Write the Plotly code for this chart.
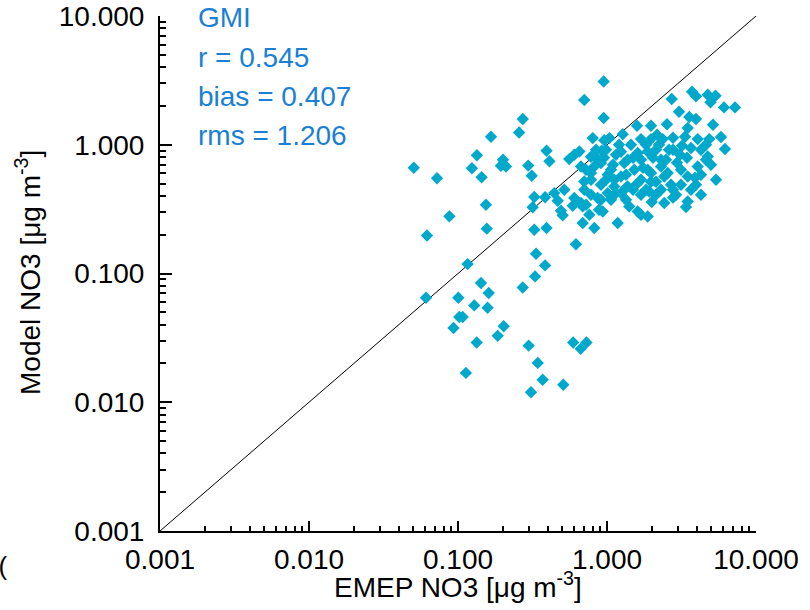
import plotly.graph_objects as go

# EMEP observed NO3 vs GMI modelled NO3, both in ug m-3
emep_no3 = [
    0.0505, 0.0723, 0.134, 0.124, 0.144, 0.1665, 0.257, 0.272, 0.194, 0.2005,
    0.21, 0.296, 0.3125, 0.393, 0.411, 0.558, 0.603, 0.652, 0.704, 0.950,
    0.950, 0.802, 0.959, 1.039, 1.275, 0.921,
    0.154, 0.0875, 0.0619, 0.156, 0.325, 0.384, 0.317, 0.443, 0.517, 0.467,
    0.491, 0.504, 0.603, 0.589, 0.687, 0.704, 0.325, 0.393, 0.619,
    0.116, 0.061, 0.334, 0.384, 0.329, 0.272, 0.1427, 0.1607, 0.1005, 0.1286,
    0.158, 0.102, 0.1075, 0.0933, 0.2027, 0.1847, 0.1335, 0.298, 0.593, 0.728,
    0.666, 0.343, 0.113, 0.370, 0.509, 0.309,
    0.781, 0.866, 0.761, 0.687, 0.822, 0.936, 1.18, 1.411, 1.607, 1.691,
    1.876, 1.995, 2.424, 3.479, 3.389, 1.827, 1.922, 4.274, 4.617, 0.781,
    0.704, 0.669, 2.718, 3.72, 3.956, 4.741, 5.35, 4.95, 6.10, 7.23,
    3.567, 3.956, 1.59, 1.974, 2.527, 1.691, 1.974, 2.365, 2.773, 3.479,
    3.338, 3.187, 3.09, 2.95, 4.061, 4.86, 5.82, 6.19, 0.669, 1.607,
    1.876, 2.304, 3.663, 4.741, 4.061, 2.304, 2.555, 3.138, 3.479, 1.876,
    1.974, 1.377, 1.306, 1.525, 1.064, 1.011, 1.119, 1.241, 0.911, 0.781,
    1.691, 2.424, 1.241, 1.064, 1.119, 1.011, 1.377,
    1.149, 1.449, 2.132, 2.689, 2.905, 3.956, 4.989, 5.39, 0.911, 1.341,
    2.132, 3.663, 0.870, 1.691, 1.204, 0.781, 0.818,
    0.985, 1.495, 2.132, 2.607, 4.274, 2.773, 0.723, 0.884,
    0.844, 0.955, 1.097, 1.241, 1.495, 1.744, 2.036, 2.234, 2.773, 3.443,
    3.896, 2.773, 2.304, 1.691, 1.341, 0.911, 0.985, 1.341, 1.974, 3.138,
    4.617, 5.145, 3.042, 2.166, 1.827, 0.723, 1.149, 1.565, 2.489, 4.274,
]
gmi_no3 = [
    0.663, 0.549, 0.829, 0.657, 0.559, 1.154, 1.246, 1.584, 0.687, 0.765,
    0.678, 0.689, 0.574, 0.898, 0.744, 0.774, 0.836, 0.887, 2.225, 3.10,
    1.612, 1.127, 1.084, 1.127, 1.207, 0.898,
    0.342, 0.278, 0.1975, 0.223, 0.3925, 0.391, 0.327, 0.4215, 0.447, 0.367,
    0.307, 0.2835, 0.3855, 0.336, 0.332, 0.447, 0.2187, 0.2255, 0.1687,
    0.1184, 0.0648, 0.1423, 0.1155, 0.0949, 0.0778, 0.0843, 0.0705, 0.0648, 0.0565,
    0.0542, 0.0459, 0.0459, 0.0377, 0.0389, 0.0328, 0.0291, 0.0275, 0.0291, 0.0291,
    0.026, 0.0202, 0.0169, 0.01496, 0.01368, 0.01196,
    0.409, 0.3855, 0.286, 0.2465, 0.2255, 0.303, 0.2465, 0.332, 0.303, 0.286,
    0.2774, 0.359, 0.3525, 0.3628, 0.328, 0.447, 0.4338, 0.5848, 0.765, 0.6029,
    0.5188, 0.3525, 2.265, 2.58, 2.38, 2.445, 2.402, 2.138, 1.949, 1.949,
    1.641, 1.584, 1.405, 1.405, 1.443, 1.107, 1.107, 1.107, 1.133, 1.348,
    1.154, 0.982, 0.836, 0.725, 1.107, 1.107, 1.148, 0.926, 0.678, 0.862,
    0.887, 0.765, 0.943, 0.811, 0.678, 0.678, 0.603, 0.639, 0.567, 0.639,
    0.603, 0.765, 0.721, 0.639, 0.639, 0.585, 0.535, 0.567, 0.721, 0.535,
    0.535, 0.567, 0.4215, 0.374, 0.4745, 0.4215, 0.4745,
    0.836, 1.0, 0.915, 0.489, 0.409, 0.489, 0.699, 0.535, 0.489, 0.585,
    0.516, 0.447, 0.765, 0.765, 1.0, 0.807, 0.675,
    0.915, 0.447, 0.409, 0.915, 0.915, 0.447, 0.342, 0.313,
    0.915, 0.793, 0.699, 0.882, 0.793, 0.663, 0.793, 1.0, 0.915, 0.793,
    0.554, 0.388, 0.447, 0.409, 0.374, 0.374, 0.535, 0.4635, 0.516, 0.489,
    1.0, 1.43, 1.804, 1.196, 1.0, 0.639, 0.4215, 0.489, 0.765, 0.409,
]

# 1:1 reference line end points
one_to_one = [0.001, 10.0]

# axis ticks
major_vals = [0.001, 0.01, 0.1, 1.0, 10.0]
major_text = ["0.001", "0.010", "0.100", "1.000", "10.000"]
minor_vals = [m * d for d in [0.001, 0.01, 0.1, 1.0] for m in range(2, 10)]

stats_lines = ["GMI", "r = 0.545", "bias = 0.407", "rms = 1.206"]

FONT = "Liberation Sans, Arial, Helvetica, sans-serif"
POINT_COLOR = "#00a9cb"
STATS_COLOR = "#1b7fd3"

fig = go.Figure()
fig.add_trace(go.Scatter(
    x=one_to_one, y=one_to_one, mode="lines",
    line=dict(color="black", width=1), hoverinfo="skip", showlegend=False,
))
fig.add_trace(go.Scatter(
    x=emep_no3, y=gmi_no3, mode="markers",
    marker=dict(symbol="diamond", size=9.5, color=POINT_COLOR, line=dict(width=0)),
    showlegend=False,
))

axis_common = dict(
    type="log", range=[-3, 1], showgrid=False, zeroline=False,
    showline=True, linecolor="black", linewidth=2, automargin=False,
    ticks="inside", tickcolor="black", tickwidth=1.5,
    tickvals=major_vals, ticktext=major_text,
    tickfont=dict(family=FONT, size=28, color="black"),
    minor=dict(tickvals=minor_vals, ticks="inside", tickcolor="black",
               tickwidth=1.5, showgrid=False),
    mirror=False,
)
fig.update_xaxes(**axis_common, ticklen=10, ticklabelstandoff=2)
fig.update_yaxes(**axis_common, ticklen=12, ticklabelstandoff=8)
fig.update_xaxes(minor_ticklen=5)
fig.update_yaxes(minor_ticklen=6)

plot_w, plot_h = 596, 515
left, top = 160, 16

def px_to_paper(px, py):
    return (px - left) / plot_w, (top + plot_h - py) / plot_h

annotations = []
for line, py in zip(stats_lines, [18, 57, 96, 135]):
    ax, ay = px_to_paper(196, py)
    annotations.append(dict(
        text=line, xref="paper", yref="paper", x=ax, y=ay,
        xanchor="left", yanchor="middle", showarrow=False,
        font=dict(family=FONT, size=28, color=STATS_COLOR),
    ))

tx, ty = px_to_paper(458, 585)
annotations.append(dict(
    text="EMEP NO3 [μg m<sup>-3</sup>]", xref="paper", yref="paper",
    x=tx, y=ty, xanchor="center", yanchor="middle", showarrow=False,
    font=dict(family=FONT, size=28, color="black"),
))
vx, vy = px_to_paper(28, 273)
annotations.append(dict(
    text="Model NO3 [μg m<sup>-3</sup>]", xref="paper", yref="paper",
    x=vx, y=vy, xanchor="center", yanchor="middle", textangle=-90,
    showarrow=False, font=dict(family=FONT, size=28, color="black"),
))
sx, sy = px_to_paper(9, 566)
annotations.append(dict(
    text="0(", xref="paper", yref="paper", x=sx, y=sy,
    xanchor="right", yanchor="middle", showarrow=False,
    font=dict(family=FONT, size=26, color="black"),
))

fig.update_layout(
    width=810, height=610,
    margin=dict(l=left, r=810 - left - plot_w, t=top, b=610 - top - plot_h),
    paper_bgcolor="white", plot_bgcolor="white",
    annotations=annotations,
    font=dict(family=FONT),
)

fig.write_html("out.html")
